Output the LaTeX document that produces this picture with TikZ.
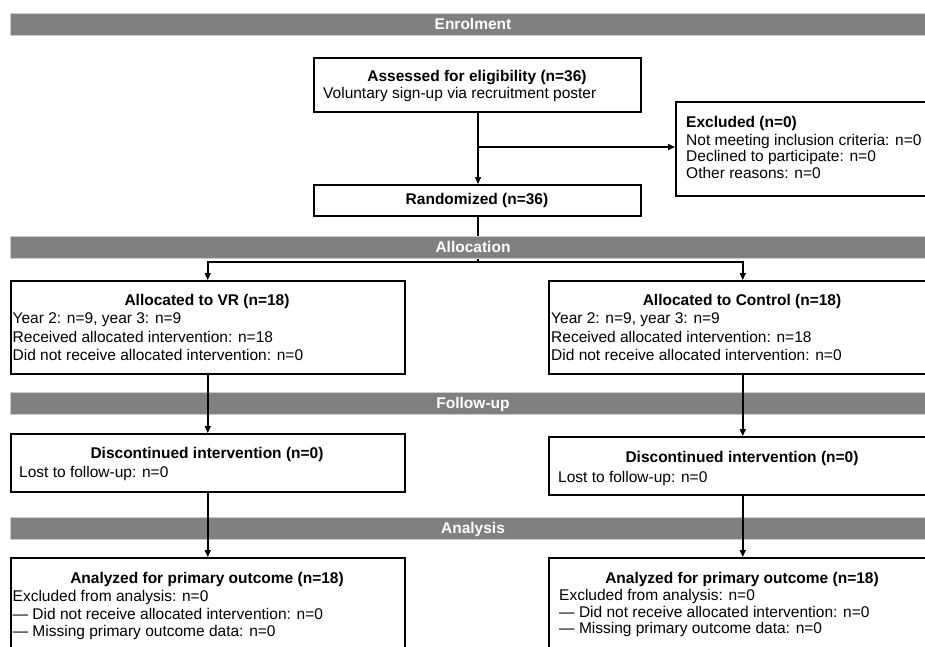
\documentclass[tikz,border=0pt]{standalone}
\usepackage{fontspec}
\setmainfont{Liberation Sans}
\usetikzlibrary{arrows.meta}
\definecolor{bannergray}{HTML}{808080}
\tikzset{
  box/.style={draw=black, line width=1.5pt, fill=white, inner sep=0pt, anchor=north west},
  banner/.style={fill=bannergray, draw=black!20, line width=0.6pt, inner sep=0pt, anchor=north west, minimum height=22pt},
  bantxt/.style={text=white, font=\fontsize{15.5}{18}\selectfont\bfseries, inner sep=0pt, anchor=base},
  ttl/.style={font=\fontsize{15.5}{18}\selectfont\bfseries, inner sep=0pt, anchor=base},
  txt/.style={font=\fontsize{15.5}{18}\selectfont, inner sep=0pt, anchor=base west},
  arr/.style={line width=1.5pt, -{Triangle[length=7pt,width=6pt]}},
  ln/.style={line width=1.5pt}
}
\begin{document}
\begin{tikzpicture}[x=1pt,y=-1pt]
\useasboundingbox (0,0) rectangle (925,646);
\clip (0,0) rectangle (925,646);
\fill[white] (0,0) rectangle (925,646);

% banners (lines drawn over follow-up and analysis)
\node[banner, minimum width=940pt] (enb) at (10,13) {};
\node[bantxt] (ent) at (473,29.5) {Enrolment};
\node[banner, minimum width=940pt] (fub) at (10,392) {};
\node[bantxt] (fut) at (473,408.5) {Follow-up};
\node[banner, minimum width=940pt] (anb) at (10,517) {};
\node[bantxt] (ant) at (473,533.5) {Analysis};

% enrolment boxes
\node[box, minimum width=327pt, minimum height=54pt] (ass) at (313,57) {};
\node[ttl] (ass1) at (477,81) {Assessed for eligibility (n=36)};
\node[txt] (ass2) at (323,98.5) {Voluntary sign-up via recruitment poster};

\node[box, minimum width=327pt, minimum height=31pt] (rnd) at (313,184) {};
\node[ttl] (rnd1) at (477,204.5) {Randomized (n=36)};

\node[box, minimum width=270pt, minimum height=94pt] (exc) at (675,101) {};
\node[ttl, anchor=base west] (exc1) at (686,127.5) {Excluded (n=0)};
\node[txt] (exc2) at (686,145) {Not meeting inclusion criteria: n=0};
\node[txt] (exc3) at (686,161.5) {Declined to participate: n=0};
\node[txt] (exc4) at (686,178) {Other reasons: n=0};

% allocation boxes
\node[box, minimum width=394pt, minimum height=93pt] (vr) at (10,280) {};
\node[ttl] (vr1) at (207,305.5) {Allocated to VR (n=18)};
\node[txt] (vr2) at (12.5,323.5) {Year 2: n=9, year 3: n=9};
\node[txt] (vr3) at (12.5,342) {Received allocated intervention: n=18};
\node[txt] (vr4) at (12.5,360.5) {Did not receive allocated intervention: n=0};

\node[box, minimum width=388pt, minimum height=93pt] (ct) at (548,280) {};
\node[ttl] (ct1) at (742,305.5) {Allocated to Control (n=18)};
\node[txt] (ct2) at (551,323.5) {Year 2: n=9, year 3: n=9};
\node[txt] (ct3) at (551,342) {Received allocated intervention: n=18};
\node[txt] (ct4) at (551,360.5) {Did not receive allocated intervention: n=0};

% follow-up boxes
\node[box, minimum width=394pt, minimum height=58pt] (vrf) at (10,433) {};
\node[ttl] (vrf1) at (207,458.5) {Discontinued intervention (n=0)};
\node[txt] (vrf2) at (19,477.5) {Lost to follow-up: n=0};

\node[box, minimum width=388pt, minimum height=58pt] (ctf) at (548,436) {};
\node[ttl] (ctf1) at (742,462) {Discontinued intervention (n=0)};
\node[txt] (ctf2) at (558,482) {Lost to follow-up: n=0};

% analysis boxes
\node[box, minimum width=394pt, minimum height=110pt] (vra) at (10,557) {};
\node[ttl] (vra1) at (207,583.5) {Analyzed for primary outcome (n=18)};
\node[txt] (vra2) at (12.5,601.5) {Excluded from analysis: n=0};
\node[txt] (vra3) at (12.5,619) {— Did not receive allocated intervention: n=0};
\node[txt] (vra4) at (12.5,636.5) {— Missing primary outcome data: n=0};

\node[box, minimum width=388pt, minimum height=110pt] (cta) at (548,557) {};
\node[ttl] (cta1) at (742,583.5) {Analyzed for primary outcome (n=18)};
\node[txt] (cta2) at (559,600.5) {Excluded from analysis: n=0};
\node[txt] (cta3) at (559,617) {— Did not receive allocated intervention: n=0};
\node[txt] (cta4) at (559,633) {— Missing primary outcome data: n=0};

% connectors
\coordinate (br) at (478,147);
\coordinate (sp) at (478,262);
\draw[arr] (ass.south -| br) -- (rnd.north -| br);
\draw[arr] (br) -- (br -| exc.west);
\draw[ln] (rnd.south -| sp) -- (sp);
\draw[arr] (sp) -| (vr.north);
\draw[arr] (sp) -| (ct.north);
\draw[arr] (vr.south) -- (vrf.north);
\draw[arr] (ct.south) -- (ct.south |- ctf.north);
\draw[arr] (vrf.south) -- (vra.north);
\draw[arr] (ctf.south) -- (ctf.south |- cta.north);

% allocation banner on top of the trunk line
\node[banner, minimum width=940pt] (alb) at (10,236) {};
\node[bantxt] (alt) at (473,252.5) {Allocation};
\end{tikzpicture}
\end{document}
